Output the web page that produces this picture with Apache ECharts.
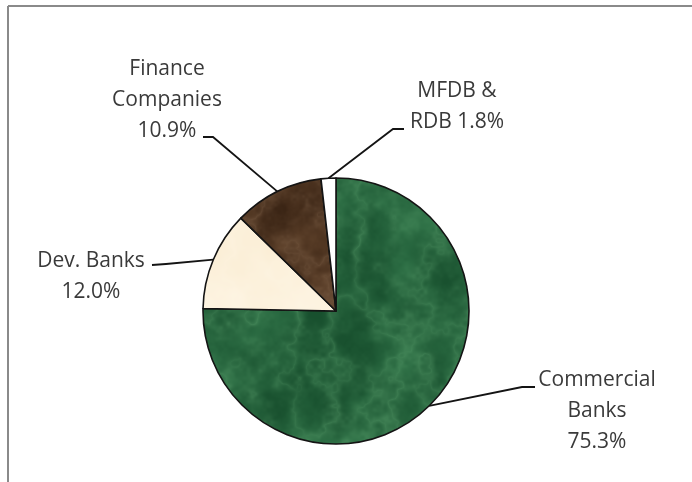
<!DOCTYPE html>
<html>
<head>
<meta charset="utf-8">
<script src="https://cdn.jsdelivr.net/npm/echarts@6/dist/echarts.min.js"></script>
<style>
html,body{margin:0;padding:0;background:#fff;}
#c{width:692px;height:482px;}
</style>
</head>
<body>
<div id="c"></div>
<script>
// ---- data ----
const categories = ['Commercial Banks', 'Dev. Banks', 'Finance Companies', 'MFDB & RDB'];
const shares = [75.3, 12.0, 10.9, 1.8];
const labelNames = ['Commercial\nBanks', 'Dev. Banks', 'Finance\nCompanies', 'MFDB &\nRDB'];
const labelSeps = ['\n', '\n', '\n', ' '];

// ---- layout (label placement, not data) ----
const labelPos = [[597, 411], [91, 277], [167, 100], [457, 107]];
const lineKink = [[522, 387], [166, 264], [213, 137], [393, 129]];
const lineEnd  = [[535, 387], [152, 265], [203, 137], [404, 129]];

const W = 692, H = 482;

// deterministic value noise for marble-like textures
function hash(ix, iy, seed) {
  let h = Math.imul(ix, 374761393) ^ Math.imul(iy, 668265263) ^ Math.imul(seed, 144665);
  h = Math.imul(h ^ (h >>> 13), 1274126177);
  h = h ^ (h >>> 16);
  return (h >>> 0) / 4294967295;
}
function vnoise(x, y, seed) {
  const x0 = Math.floor(x), y0 = Math.floor(y);
  const fx = x - x0, fy = y - y0;
  const sx = fx * fx * (3 - 2 * fx), sy = fy * fy * (3 - 2 * fy);
  const a = hash(x0, y0, seed), b = hash(x0 + 1, y0, seed);
  const c = hash(x0, y0 + 1, seed), d = hash(x0 + 1, y0 + 1, seed);
  return (a + (b - a) * sx) * (1 - sy) + (c + (d - c) * sx) * sy;
}
function fbm(x, y, seed, oct) {
  let s = 0, amp = 0.5, f = 1, norm = 0;
  for (let o = 0; o < oct; o++) {
    s += amp * vnoise(x * f, y * f, seed + o * 31);
    norm += amp; amp *= 0.55; f *= 2;
  }
  return s / norm;
}
function makeTexture(dark, mid, light, seed, veinStrength, scale) {
  const cv = document.createElement('canvas');
  cv.width = W; cv.height = H;
  const ctx = cv.getContext('2d');
  const img = ctx.createImageData(W, H);
  const d = img.data;
  for (let y = 0; y < H; y++) {
    for (let x = 0; x < W; x++) {
      const n1 = fbm(x / scale, y / scale, seed, 5);
      const r = 1 - Math.abs(2 * fbm(x / (scale * 0.7), y / (scale * 0.7), seed + 7, 4) - 1);
      const vein = Math.pow(r, 4) * veinStrength * (0.4 + 0.6 * fbm(x / 30, y / 30, seed + 50, 2));
      const t = Math.min(1, Math.max(0, (n1 - 0.25) * 2));
      const i = (y * W + x) * 4;
      for (let k = 0; k < 3; k++) {
        const base = dark[k] + (mid[k] - dark[k]) * t;
        d[i + k] = base + (light[k] - base) * vein;
      }
      d[i + 3] = 255;
    }
  }
  ctx.putImageData(img, 0, 0);
  return cv;
}

const greenTex = makeTexture([24, 80, 46], [44, 110, 68], [88, 156, 106], 3, 0.55, 45);
const brownTex = makeTexture([58, 36, 20], [88, 60, 38], [140, 110, 84], 11, 0.5, 35);
const creamTex = makeTexture([250, 237, 212], [253, 243, 224], [255, 249, 236], 19, 0.3, 60);

const fills = [
  { image: greenTex, repeat: 'no-repeat' },
  { image: creamTex, repeat: 'no-repeat' },
  { image: brownTex, repeat: 'no-repeat' },
  '#ffffff'
];

const chart = echarts.init(document.getElementById('c'), null, { renderer: 'canvas' });

chart.setOption({
  backgroundColor: '#ffffff',
  animation: false,
  graphic: [
    { type: 'line', shape: { x1: 8, y1: 6, x2: 692, y2: 6 }, style: { stroke: '#8a8a8a', lineWidth: 2 } },
    { type: 'line', shape: { x1: 8, y1: 6, x2: 8, y2: 482 }, style: { stroke: '#8a8a8a', lineWidth: 2 } }
  ],
  series: [{
    type: 'pie',
    center: [336, 311],
    radius: 133,
    startAngle: 90,
    clockwise: true,
    avoidLabelOverlap: false,
    data: categories.map((c, i) => ({
      name: c,
      value: shares[i],
      itemStyle: { color: fills[i] }
    })),
    itemStyle: { borderColor: '#141414', borderWidth: 1.6 },
    emphasis: { disabled: true },
    label: {
      show: true,
      position: 'outside',
      color: '#3a3a3a',
      fontFamily: 'Open Sans',
      fontSize: 21,
      lineHeight: 31,
      align: 'center',
      formatter: p => labelNames[p.dataIndex] + labelSeps[p.dataIndex] + shares[p.dataIndex].toFixed(1) + '%'
    },
    labelLine: {
      show: true,
      length: 20,
      length2: 10,
      smooth: false,
      lineStyle: { color: '#141414', width: 1.8 }
    },
    labelLayout: function (params) {
      const i = params.dataIndex;
      const start = params.labelLinePoints ? params.labelLinePoints[0] : lineKink[i];
      return {
        x: labelPos[i][0],
        y: labelPos[i][1],
        align: 'center',
        verticalAlign: 'middle',
        labelLinePoints: [start, lineKink[i], lineEnd[i]]
      };
    }
  }]
});
</script>
</body>
</html>
